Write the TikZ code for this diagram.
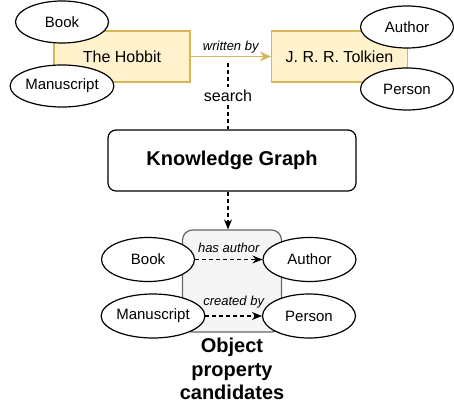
\documentclass[tikz,border=0pt]{standalone}
\usepackage{fontspec}
\setmainfont{Liberation Sans}
\definecolor{goldline}{HTML}{D6B656}
\definecolor{goldfill}{HTML}{FFF2CC}
\definecolor{boxgray}{HTML}{666666}
\definecolor{boxfill}{HTML}{F5F5F5}
\usetikzlibrary{arrows.meta,positioning,shapes}

\begin{document}
\begin{tikzpicture}[x=1pt, y=-1pt, line width=1.2pt,
    entity/.style={rectangle, draw=goldline, fill=goldfill, minimum width=136pt, minimum height=51pt, font=\fontsize{16}{19}\selectfont},
    cls/.style={ellipse, draw, fill=white, minimum width=93pt, minimum height=42pt, inner sep=0pt, font=\fontsize{15}{18}\selectfont},
    rel/.style={font=\fontsize{13}{15}\selectfont\itshape, inner sep=1pt},
    dashline/.style={dash pattern=on 4pt off 3pt}]
    \useasboundingbox (0,0) rectangle (454,411);

    % example triple
    \node[entity] (hobbit) at (122,56.5) {The Hobbit};
    \node[entity] (tolkien) at (339.5,56.5) {J. R. R. Tolkien};
    \node[cls] (book1) at (62,22) {Book};
    \node[cls] (ms1) at (62,86) {Manuscript};
    \node[cls] (author1) at (407,27) {Author};
    \node[cls] (person1) at (407,89) {Person};
    \draw[goldline, -{Stealth[length=11pt, width=10pt]}] (hobbit) -- node[rel, above=2pt, text=black] {written by} (tolkien);

    % graph lookup
    \coordinate (srch) at (228,63);
    \node[draw, rounded corners=8pt, minimum width=248pt, minimum height=61pt, font=\bfseries\fontsize{20}{24}\selectfont] (kg) at (232,160.5) {Knowledge Graph};
    \draw[dashline] (srch) -- node[fill=white, font=\fontsize{16}{19}\selectfont] {search} (srch |- kg.north);

    % candidates
    \node[draw=boxgray, fill=boxfill, rounded corners=10pt, minimum width=99pt, minimum height=102pt] (cand) at (232,281) {};
    \draw[dashline, -{Stealth[length=10pt, width=8pt]}] (srch |- kg.south) -- (srch |- cand.north);
    \node[cls, minimum height=44pt] (book2) at (148,259.5) {Book};
    \node[cls, minimum height=44pt] (author2) at (309.5,259.5) {Author};
    \node[cls, minimum height=44pt] (ms2) at (153,316) {Manuscript};
    \node[cls, minimum height=44pt] (person2) at (309,316) {Person};
    \draw[dashline, -{Stealth[length=10pt, width=8pt]}] (book2) -- node[rel, above=5pt] {has author} (author2);
    \draw[dashline, -{Stealth[length=10pt, width=8pt]}] (ms2) -- node[rel, above=6pt] {created by} (person2);
    \node[align=center, font=\bfseries\fontsize{20}{23.5}\selectfont] (title) at (232,369) {Object\\property\\candidates};
\end{tikzpicture}
\end{document}
